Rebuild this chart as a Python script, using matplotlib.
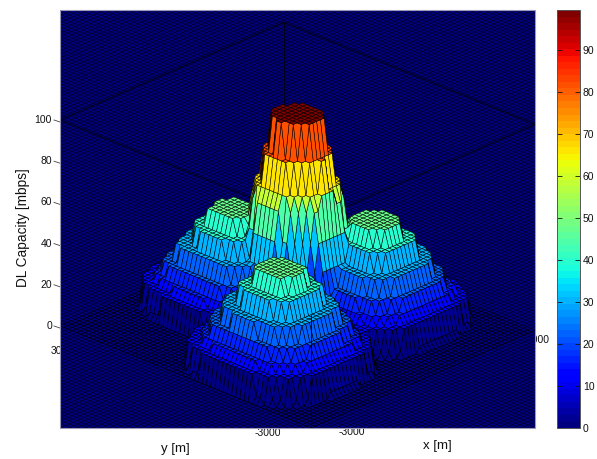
import numpy as np
import matplotlib
matplotlib.use('Agg')
import matplotlib.pyplot as plt
from matplotlib.cm import ScalarMappable
from matplotlib.colors import Normalize
from matplotlib.patches import Rectangle
from matplotlib.transforms import IdentityTransform
from mpl_toolkits.mplot3d.art3d import Line3DCollection

plt.rcParams['font.family'] = ['Liberation Sans', 'DejaVu Sans']

# Values
tower_x = 380
tower_y = 340
tower_rings = [500, 650, 770, 840, 930, 1020, 1200]
tower_levels = [98, 81, 66, 59, 45, 32, 20, 0]

hill_x = [-1465, 1287, -141]
hill_y = [-889, -706, 1370]
hill_rings = [435, 680, 945, 1135, 1270, 1480, 1520]
hill_levels = [48, 40, 31, 23, 17, 13, 3, 0]

z_ticks = [0, 20, 40, 60, 80, 100]
cbar_ticks = [0, 10, 20, 30, 40, 50, 60, 70, 80, 90]
z_max = 99.5

W, H = 597, 459
L, R, T, B = 60, 535, 10, 428


def step_lookup(dist, rings, levels):
    return np.array(levels)[np.searchsorted(rings, dist, side='right')]


x = np.arange(-3000, 3001, 100)
y = np.arange(-3000, 3001, 100)
X, Y = np.meshgrid(x, y)

Z = step_lookup(np.hypot(X - tower_x, Y - tower_y), tower_rings, tower_levels)
for hx, hy in zip(hill_x, hill_y):
    d = (np.abs(X - hx) ** 3 + np.abs(Y - hy) ** 3) ** (1 / 3)
    Z = np.maximum(Z, step_lookup(d, hill_rings, hill_levels))
Z = Z.astype(float)

cmap = plt.get_cmap('jet', 64)
norm = Normalize(0, z_max)

fig = plt.figure(figsize=(W / 100, H / 100), dpi=100)

# pixel overlay for everything that sits around the 3d box
bg = fig.add_axes([0, 0, 1, 1], zorder=0)
bg.set_xlim(0, W)
bg.set_ylim(H, 0)
bg.axis('off')

for z in z_ticks:
    py = 326 - 2.06 * z
    bg.plot([54, 60], [py, py + 2], color='#444444', lw=0.6, zorder=1)
    bg.text(52, py, str(z), ha='right', va='center', fontsize=7.5, color='#111111', zorder=1)

bg.text(51, 351, '3000', ha='left', va='center', fontsize=7.5, color='#111111', zorder=1)
bg.text(527, 340, '3000', ha='left', va='center', fontsize=7.5, color='#111111', zorder=1)
bg.text(268, 433, '-3000', ha='center', va='center', fontsize=7.5, color='#111111', zorder=1)
bg.text(352, 432, '-3000', ha='center', va='center', fontsize=7.5, color='#111111', zorder=1)
bg.text(175, 449, 'y [m]', ha='center', va='center', fontsize=9.5, color='#111111')
bg.text(437, 446, 'x [m]', ha='center', va='center', fontsize=9.5, color='#111111')
bg.text(23, 228, 'DL Capacity [mbps]', rotation=90, ha='center', va='center', fontsize=9.8,
        color='#111111')
bg.add_patch(Rectangle((L, T), R - L, B - T, fc=cmap(0), ec='none', zorder=5))

# 3d axes are always square and their view limits are lopsided, hence the shifted centre
side = 500
cx, cy = 290.75, 231.75
ax = fig.add_axes([(cx - side / 2) / W, (H - cy - side / 2) / H, side / W, side / H],
                  projection='3d', computed_zorder=False, zorder=2)
ax.set_proj_type('ortho')
ax.view_init(elev=24.9, azim=-136)
ax.set_box_aspect((322.5, 349, 227), zoom=1.0225)
ax.set_xlim(-3000, 3000)
ax.set_ylim(-3000, 3000)
ax.set_zlim(0, 100)
ax.set_axis_off()
ax.patch.set_alpha(0)

clip = Rectangle((L, H - B), R - L, B - T)
clip.set_transform(IdentityTransform())

# the flat mesh carries on past the axis limits
far_x = np.arange(-7000, 14001, 100)
far_y = np.arange(-7000, 13001, 100)
segs = [[(v, far_y[0], 0), (v, far_y[-1], 0)] for v in far_x]
segs += [[(far_x[0], v, 0), (far_x[-1], v, 0)] for v in far_y]
floor = Line3DCollection(segs, colors='black', linewidths=0.3, zorder=1)
ax.add_collection3d(floor, autolim=False)
floor.set_clip_path(clip)

# box edges
edges = [([-3000, -3000], [3000, 3000], [0, 100]),
         ([3000, 3000], [3000, 3000], [0, 100]),
         ([3000, 3000], [-3000, -3000], [0, 100]),
         ([-3000, 3000], [3000, 3000], [100, 100]),
         ([3000, 3000], [-3000, 3000], [100, 100]),
         ([-3000, 3000], [-3000, -3000], [100, 100]),
         ([-3000, -3000], [-3000, 3000], [100, 100]),
         ([-3000, 3000], [-3000, -3000], [0, 0]),
         ([-3000, -3000], [-3000, 3000], [0, 0])]
for ex, ey, ez in edges:
    ln, = ax.plot(ex, ey, ez, color='black', lw=0.5, zorder=2)
    ln.set_clip_path(clip)

surf = ax.plot_surface(X, Y, Z, rstride=1, cstride=1, facecolors=cmap(norm(Z)), shade=False,
                       edgecolor='black', linewidth=0.35, antialiased=True, zorder=3)
surf.set_clip_path(clip)

front, = ax.plot([-3000, -3000], [-3000, -3000], [0, 55], color='black', lw=0.6, zorder=4)
front.set_clip_path(clip)

# frame of the axes
top = fig.add_axes([0, 0, 1, 1], zorder=3)
top.set_xlim(0, W)
top.set_ylim(H, 0)
top.axis('off')
top.add_patch(Rectangle((L, T), R - L, B - T, fc='none', ec='#9a9ab8', lw=0.8))

# colorbar
cax = fig.add_axes([557 / W, (H - B) / H, 23 / W, (B - T) / H], zorder=4)
cb = fig.colorbar(ScalarMappable(norm=norm, cmap=cmap), cax=cax, ticks=cbar_ticks)
cb.ax.tick_params(direction='in', length=3.5, width=0.6, left=True, right=True, labelsize=7.5,
                  pad=2, colors='#111111')
cb.outline.set_edgecolor('#555555')
cb.outline.set_linewidth(0.7)

fig.savefig('out.png', dpi=100)
